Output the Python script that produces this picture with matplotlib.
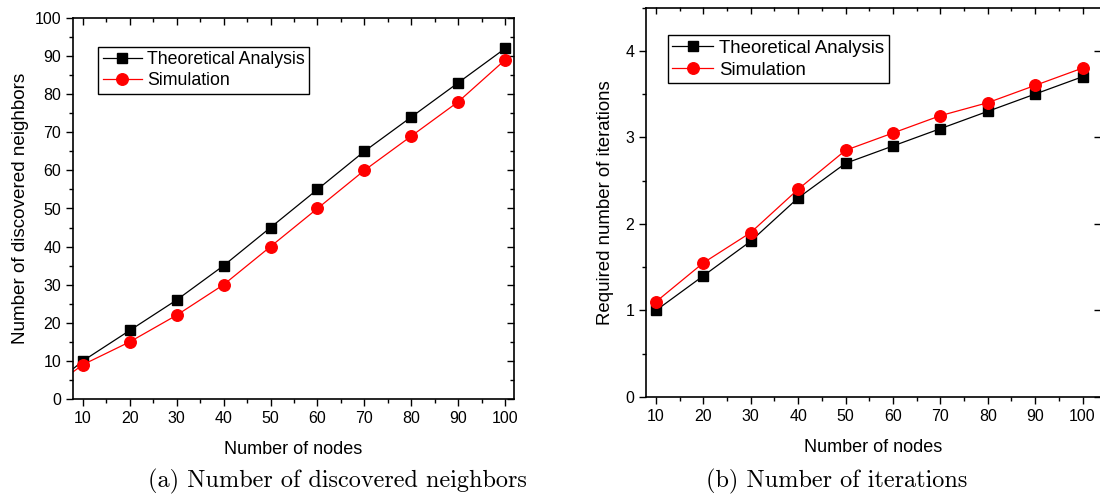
import matplotlib
matplotlib.use("Agg")
import matplotlib.pyplot as plt
from matplotlib.ticker import MultipleLocator

plt.rcParams['font.family'] = ['Liberation Sans', 'DejaVu Sans']

# ---- data ----
nodes = [10, 20, 30, 40, 50, 60, 70, 80, 90, 100]
neighbors_theory = [10, 18, 26, 35, 45, 55, 65, 74, 83, 92]
neighbors_sim = [9, 15, 22, 30, 40, 50, 60, 69, 78, 89]
iter_theory = [1.0, 1.4, 1.8, 2.3, 2.7, 2.9, 3.1, 3.3, 3.5, 3.7]
iter_sim = [1.1, 1.55, 1.9, 2.4, 2.85, 3.05, 3.25, 3.4, 3.6, 3.8]
origin_x = [0]
origin_y = [0]
series_labels = ["Theoretical Analysis", "Simulation"]
captions = ["(a) Number of discovered neighbors", "(b) Number of iterations"]
xlabel = "Number of nodes"
ylabels = ["Number of discovered neighbors", "Required number of iterations"]

W, H = 1100, 494
fig = plt.figure(figsize=(W / 100, H / 100), dpi=100)

def px_axes(l, r, t, b):
    return fig.add_axes([l / W, 1 - b / H, (r - l) / W, (b - t) / H])

ax1 = px_axes(73, 514, 18, 399)
ax2 = px_axes(646, 1101, 7.5, 397)

tick_fs = 11.5
xlab_fs = 13
leg_kw = dict(loc='upper left', borderaxespad=0, fancybox=False, edgecolor='black',
              framealpha=1, handlelength=2.2, labelspacing=0.25, borderpad=0.25,
              handletextpad=0.3)

def style(ax):
    for s in ax.spines.values():
        s.set_linewidth(1.2)
        s.set_color('black')
    ax.tick_params(axis='both', which='major', direction='out', length=5, width=1.0,
                   labelsize=tick_fs, colors='black')
    ax.tick_params(axis='both', which='minor', direction='out', length=3, width=1.0)
    ax.xaxis.set_major_locator(MultipleLocator(10))
    ax.xaxis.set_minor_locator(MultipleLocator(5))
    sec_x = ax.secondary_xaxis('top')
    sec_x.xaxis.set_major_locator(MultipleLocator(10))
    sec_x.xaxis.set_minor_locator(MultipleLocator(5))
    sec_x.tick_params(which='major', direction='in', length=5, width=1.0, labeltop=False)
    sec_x.tick_params(which='minor', direction='in', length=3, width=1.0)
    sec_x.spines['top'].set_visible(False)
    return sec_x

# ---- left panel ----
xa = origin_x + nodes
ax1.plot(xa, origin_y + neighbors_theory, color='black', lw=0.9, marker='s', ms=6.5,
         markevery=list(range(1, len(xa))), label=series_labels[0])
ax1.plot(xa, origin_y + neighbors_sim, color='red', lw=0.9, marker='o', ms=8.3,
         markevery=list(range(1, len(xa))), label=series_labels[1])
ax1.set_xlim(7.9, 101.9)
ax1.set_ylim(0, 100)
style(ax1)
ax1.yaxis.set_major_locator(MultipleLocator(10))
ax1.yaxis.set_minor_locator(MultipleLocator(5))
sec_y1 = ax1.secondary_yaxis('right')
sec_y1.yaxis.set_major_locator(MultipleLocator(10))
sec_y1.yaxis.set_minor_locator(MultipleLocator(5))
sec_y1.tick_params(which='major', direction='in', length=5, width=1.0, labelright=False)
sec_y1.tick_params(which='minor', direction='in', length=3, width=1.0)
sec_y1.spines['right'].set_visible(False)
ax1.set_xlabel(xlabel, fontsize=xlab_fs, labelpad=11)
ax1.set_ylabel(ylabels[0], fontsize=13.6, labelpad=4)
leg1 = ax1.legend(bbox_to_anchor=(0.057, 0.925), fontsize=12.8, **leg_kw)
leg1.get_frame().set_linewidth(1.0)

# ---- right panel ----
ax2.plot(nodes, iter_theory, color='black', lw=0.9, marker='s', ms=6.5, label=series_labels[0])
ax2.plot(nodes, iter_sim, color='red', lw=0.9, marker='o', ms=8.3, label=series_labels[1])
ax2.set_xlim(7.9, 103.9)
ax2.set_ylim(0, 4.5)
style(ax2)
ax2.yaxis.set_major_locator(MultipleLocator(1))
ax2.yaxis.set_minor_locator(MultipleLocator(0.5))
ax2.spines['right'].set_visible(False)
sec_y2 = ax2.secondary_yaxis('right')
sec_y2.yaxis.set_major_locator(MultipleLocator(1))
sec_y2.tick_params(which='major', direction='in', length=5, width=1.0, labelright=False)
sec_y2.spines['right'].set_visible(False)
ax2.set_xlabel(xlabel, fontsize=xlab_fs, labelpad=11)
ax2.set_ylabel(ylabels[1], fontsize=13.4, labelpad=8)
leg2 = ax2.legend(bbox_to_anchor=(0.048, 0.929), fontsize=13.4, **leg_kw)
leg2.get_frame().set_linewidth(1.0)

# ---- captions ----
fig.text(337 / W, 1 - 481 / H, captions[0], ha='center', va='center',
         fontsize=17.5, family='cmr10')
fig.text(837 / W, 1 - 481 / H, captions[1], ha='center', va='center',
         fontsize=17.5, family='cmr10')

fig.savefig("out.png", dpi=100)
